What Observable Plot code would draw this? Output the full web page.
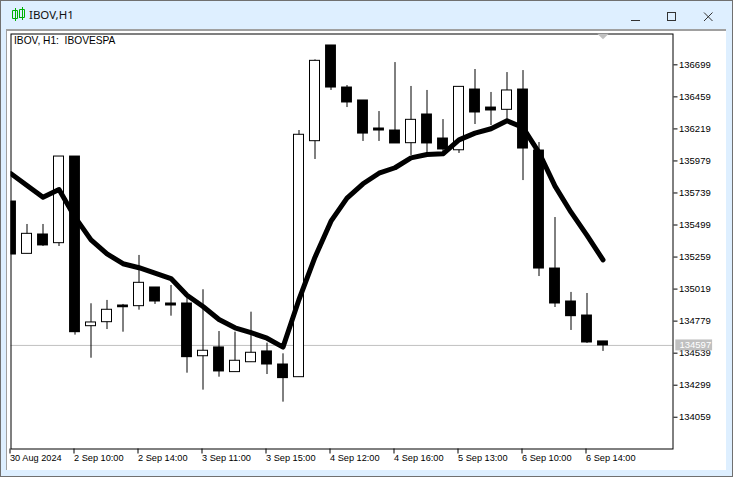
<!DOCTYPE html>
<html><head><meta charset="utf-8">
<script src="https://cdn.jsdelivr.net/npm/d3@7"></script>
<script src="https://cdn.jsdelivr.net/npm/@observablehq/plot@0.6"></script>
<style>
html,body{margin:0;padding:0;width:733px;height:477px;overflow:hidden;background:#deefff}
#frame{position:absolute;left:0;top:0;width:731px;height:475px;border:1px solid #707070}
#title{position:absolute;left:29px;top:7px;font:11.5px "Noto Sans",sans-serif;color:#111;line-height:16px}
#client{position:absolute;left:6px;top:29px;width:720px;height:441px;background:#fff;border-top:2px solid #a0a0a0;border-left:1px solid #a0a0a0;box-sizing:border-box}
#chart{position:absolute;left:0;top:30px;width:733px}
#chart svg{display:block;background:transparent}
.chrome{position:absolute;left:0;top:0}
</style></head><body>
<div id="frame"></div>
<svg class="chrome" width="733" height="30">
  <g fill="none" stroke="#00b000" stroke-width="1">
    <path d="M15.5 8v13M12.5 10.5h5v8h-5zM19.5 10v8M22.5 7v13M19.5 9.5h5v8h-5z"/>
  </g>
  <g fill="none" stroke="#333" stroke-width="1">
    <path d="M631 20.5h9"/>
    <rect x="667.5" y="12.5" width="8" height="8"/>
    <path d="M704 12.5l8.5 8.5M712.5 12.5l-8.5 8.5"/>
  </g>
</svg>
<div id="title">IBOV,H1</div>
<div id="client"></div>
<div id="chart"></div>
<script>
const openP  = [135675,135283,135428,135363,136012,134741,134771,134896,134891,135031,134911,134911,134516,134582,134397,134471,134552,134454,134359,136127,136844,136529,136432,136222,136207,136112,136327,136147,136059,136514,136379,136362,136514,136057,135173,134926,134821,134627];
const closeP = [135278,135433,135346,136012,134696,134769,134864,134883,135066,134926,134896,134509,134557,134402,134482,134542,134454,134352,136175,136729,136529,136417,136184,136207,136110,136287,136110,136065,136534,136342,136357,136507,136072,135173,134911,134816,134619,134597];
const highP  = [135675,135503,135503,136012,136012,134909,134934,134904,135271,135031,135046,134964,135014,134701,134696,134846,134614,134534,136207,136736,136844,136544,136432,136349,136716,136537,136507,136289,136534,136664,136492,136641,136656,136117,135555,134994,134986,134627];
const lowP   = [135278,135283,135338,135338,134674,134501,134716,134696,134861,134904,134816,134389,134262,134359,134397,134471,134379,134172,134359,135990,136507,136379,136125,136125,136110,136020,136020,136020,136035,136252,136244,136282,135832,135113,134881,134709,134612,134552];
const maP    = [135883,135795,135707,135765,135558,135388,135283,135209,135179,135138,135098,134973,134889,134791,134729,134692,134651,134584,134941,135258,135528,135700,135808,135887,135928,136002,136027,136032,136137,136187,136220,136280,136229,136042,135790,135595,135421,135238];
const priceTicks = [136699,136459,136219,135979,135739,135499,135259,135019,134779,134539,134299,134059];
const timeLabels = ["30 Aug 2024","2 Sep 10:00","2 Sep 14:00","3 Sep 11:00","3 Sep 15:00","4 Sep 12:00","4 Sep 16:00","5 Sep 13:00","6 Sep 10:00","6 Sep 14:00"];
const timeTickBars = [0,4,8,12,16,20,24,28,32,36];
const lastPrice = 134597;
const chartTitle = "IBOV, H1:  IBOVESPA";

const bars = openP.map((o,i)=>({i,open:o,close:closeP[i],high:highP[i],low:lowP[i],ma:maP[i]}));
const up = bars.filter(d=>d.close>d.open);
const down = bars.filter(d=>d.close<=d.open);
const font = '"Liberation Sans",sans-serif';
const triangle = {draw(c,s){const r=Math.sqrt(s);c.moveTo(-r,-r/2);c.lineTo(r,-r/2);c.lineTo(0,r/2);c.closePath();}};

const plot = Plot.plot({
  width:733,height:447,
  marginLeft:10.5,marginRight:60.5,marginTop:3.5,marginBottom:28.5,
  style:{fontFamily:font,fontSize:"9.5px",color:"#000",background:"transparent"},
  x:{type:"linear",domain:[0,41.375],axis:null},
  y:{type:"linear",domain:[133821,136930],axis:null},
  marks:[
    Plot.ruleY([lastPrice],{stroke:"#c0c0c0",strokeWidth:1}),
    Plot.ruleX(bars,{x:"i",y1:"low",y2:"high",stroke:"#000",strokeWidth:1,clip:true}),
    Plot.rect(down,{x1:d=>d.i-0.34,x2:d=>d.i+0.34,y1:"open",y2:"close",fill:"#000",clip:true,insetTop:-0.5,insetBottom:-0.5}),
    Plot.rect(up,{x1:d=>d.i-0.3125,x2:d=>d.i+0.3125,y1:"open",y2:"close",fill:"#fff",stroke:"#000",strokeWidth:1,clip:true}),
    Plot.line(bars,{x:"i",y:"ma",stroke:"#000",strokeWidth:5,strokeLinejoin:"round",strokeLinecap:"round",clip:true}),
    Plot.frame({stroke:"#000",strokeWidth:1}),
    Plot.axisY({anchor:"right",ticks:priceTicks,tickSize:4,tickPadding:2,tickFormat:d=>String(d),label:null,stroke:"#000",strokeWidth:1,fontSize:9.5}),
    Plot.axisX({anchor:"bottom",ticks:timeTickBars,tickSize:5,tickPadding:0,tickFormat:d=>timeLabels[timeTickBars.indexOf(d)],label:null,textAnchor:"start",fontSize:9.2,dx:-1}),
    Plot.rect([lastPrice],{x1:41.55,x2:43.85,y1:d=>d-41,y2:d=>d+41,fill:"#c0c0c0"}),
    Plot.text([lastPrice],{x:41.78,y:d=>d,text:d=>String(d),fill:"#fff",textAnchor:"start",fontSize:9.5}),
    Plot.dot([37],{x:d=>d,y:[136930],symbol:triangle,r:3.2,fill:"#c0c0c0",stroke:"none",dy:2.5}),
    Plot.text([chartTitle],{frameAnchor:"top-left",dx:3,dy:3,fontSize:10.2,fill:"#000",textAnchor:"start"})
  ]
});
document.getElementById("chart").append(plot);
</script>
</body></html>
